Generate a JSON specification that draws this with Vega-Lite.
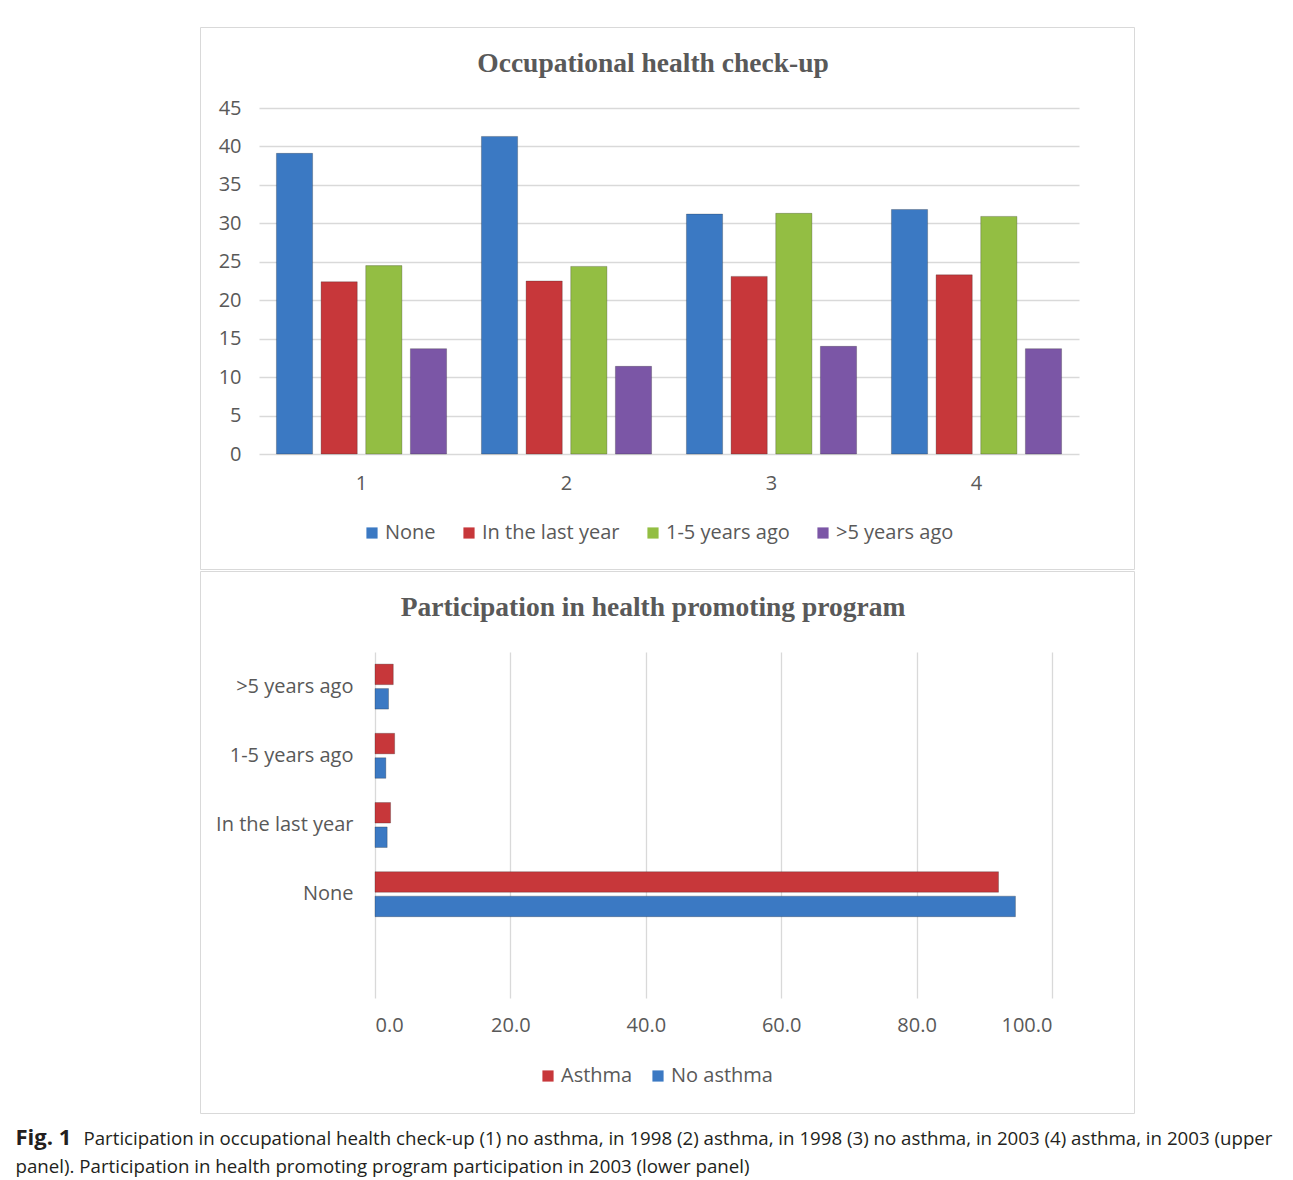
{
  "$schema": "https://vega.github.io/schema/vega-lite/v6.json",
  "padding": {"left": 15, "top": 26, "right": 10, "bottom": 0},
  "background": "white",
  "spacing": 0,
  "resolve": {"scale": {"color": "independent", "x": "independent", "y": "independent"}, "legend": {"color": "independent"}},
  "title": {
    "text": "Fig. 1",
    "subtitle": ["\u200b\u00a0\u00a0\u00a0\u00a0\u00a0\u00a0\u00a0\u00a0\u00a0\u00a0\u00a0\u00a0\u00a0\u00a0Participation in occupational health check-up (1) no asthma, in 1998 (2) asthma, in 1998 (3) no asthma, in 2003 (4) asthma, in 2003 (upper", "panel). Participation in health promoting program participation in 2003 (lower panel)"],
    "orient": "bottom",
    "anchor": "start",
    "frame": "bounds",
    "dx": -184,
    "offset": 14,
    "font": "Open Sans",
    "fontSize": 22,
    "fontWeight": "bold",
    "color": "#231f20",
    "subtitleFont": "Open Sans",
    "subtitleFontSize": 18.7,
    "subtitleFontWeight": "normal",
    "subtitleColor": "#231f20",
    "subtitleLineHeight": 28,
    "subtitlePadding": -20
  },
  "config": {
    "view": {"stroke": "#d9d9d9", "strokeWidth": 1},
    "axis": {
      "labelFont": "Open Sans",
      "labelFontSize": 20,
      "labelColor": "#595959",
      "gridColor": "#d9d9d9",
      "gridWidth": 1.3,
      "domain": false,
      "ticks": false,
      "tickSize": 0,
      "title": null
    },
    "legend": {
      "labelFont": "Open Sans",
      "labelFontSize": 20,
      "labelColor": "#595959",
      "symbolType": "square",
      "symbolSize": 125,
      "symbolStrokeWidth": 0,
      "title": null,
      "padding": 0
    },
    "title": {
      "font": "Liberation Serif",
      "fontSize": 27.5,
      "fontWeight": "bold",
      "color": "#595959"
    }
  },
  "vconcat": [
    {
      "width": 934,
      "height": 542,
      "title": {"text": "Occupational health check-up", "offset": -50, "dx": -14},
      "data": {
        "values": [
          {"group": "1", "status": "None", "value": 39.1},
          {"group": "1", "status": "In the last year", "value": 22.4},
          {"group": "1", "status": "1-5 years ago", "value": 24.5},
          {"group": "1", "status": ">5 years ago", "value": 13.7},
          {"group": "2", "status": "None", "value": 41.3},
          {"group": "2", "status": "In the last year", "value": 22.5},
          {"group": "2", "status": "1-5 years ago", "value": 24.4},
          {"group": "2", "status": ">5 years ago", "value": 11.4},
          {"group": "3", "status": "None", "value": 31.2},
          {"group": "3", "status": "In the last year", "value": 23.1},
          {"group": "3", "status": "1-5 years ago", "value": 31.3},
          {"group": "3", "status": ">5 years ago", "value": 14.0},
          {"group": "4", "status": "None", "value": 31.8},
          {"group": "4", "status": "In the last year", "value": 23.3},
          {"group": "4", "status": "1-5 years ago", "value": 30.9},
          {"group": "4", "status": ">5 years ago", "value": 13.7}
        ]
      },
      "mark": {"type": "bar", "stroke": "#1a1a1a", "strokeOpacity": 0.25, "strokeWidth": 1},
      "encoding": {
        "x": {
          "field": "group",
          "type": "nominal",
          "scale": {"range": [59, 879], "paddingInner": 0.17, "paddingOuter": 0.085},
          "axis": {"labelAngle": 0, "offset": -115, "labelPadding": 19, "grid": false}
        },
        "xOffset": {
          "field": "status",
          "type": "nominal",
          "sort": ["None", "In the last year", "1-5 years ago", ">5 years ago"],
          "scale": {"paddingInner": 0.19, "paddingOuter": 0}
        },
        "y": {
          "field": "value",
          "type": "quantitative",
          "scale": {"domain": [0, 45], "range": [427, 81], "nice": false, "zero": true},
          "axis": {"values": [0, 5, 10, 15, 20, 25, 30, 35, 40, 45], "offset": -51, "labelPadding": 10, "grid": true}
        },
        "color": {
          "field": "status",
          "type": "nominal",
          "sort": ["None", "In the last year", "1-5 years ago", ">5 years ago"],
          "scale": {"domain": ["None", "In the last year", "1-5 years ago", ">5 years ago"], "range": ["#3b79c3", "#c7373a", "#93be43", "#7b56a6"]},
          "legend": {"orient": "none", "direction": "horizontal", "legendX": 162, "legendY": 496, "labelOffset": 3, "columnPadding": 23}
        }
      }
    },
    {
      "width": 934,
      "height": 542,
      "title": {"text": "Participation in health promoting program", "offset": -50, "dx": -14},
      "data": {
        "values": [
          {"timing": ">5 years ago", "asthma": "Asthma", "value": 2.7},
          {"timing": ">5 years ago", "asthma": "No asthma", "value": 2.0},
          {"timing": "1-5 years ago", "asthma": "Asthma", "value": 2.9},
          {"timing": "1-5 years ago", "asthma": "No asthma", "value": 1.6},
          {"timing": "In the last year", "asthma": "Asthma", "value": 2.3},
          {"timing": "In the last year", "asthma": "No asthma", "value": 1.8},
          {"timing": "None", "asthma": "Asthma", "value": 92.1},
          {"timing": "None", "asthma": "No asthma", "value": 94.6}
        ]
      },
      "mark": {"type": "bar", "stroke": "#1a1a1a", "strokeOpacity": 0.25, "strokeWidth": 1},
      "encoding": {
        "y": {
          "field": "timing",
          "type": "nominal",
          "scale": {"domain": [">5 years ago", "1-5 years ago", "In the last year", "None", " "], "range": [81, 427], "paddingInner": 0.35, "paddingOuter": 0.175},
          "axis": {"offset": -175, "labelPadding": 22, "grid": false}
        },
        "yOffset": {
          "field": "asthma",
          "type": "nominal",
          "sort": ["Asthma", "No asthma"],
          "scale": {"paddingInner": 0.16, "paddingOuter": 0}
        },
        "x": {
          "field": "value",
          "type": "quantitative",
          "scale": {"domain": [0, 100], "range": [175, 852], "nice": false},
          "axis": {"orient": "top", "values": [0, 20, 40, 60, 80, 100], "format": ".1f", "offset": -464, "labelPadding": 0, "grid": true}
        },
        "color": {
          "field": "asthma",
          "type": "nominal",
          "sort": ["Asthma", "No asthma"],
          "scale": {"domain": ["Asthma", "No asthma"], "range": ["#c7373a", "#3b79c3"]},
          "legend": {"orient": "none", "direction": "horizontal", "legendX": 338, "legendY": 495, "labelOffset": 3, "columnPadding": 15}
        }
      }
    }
  ]
}
